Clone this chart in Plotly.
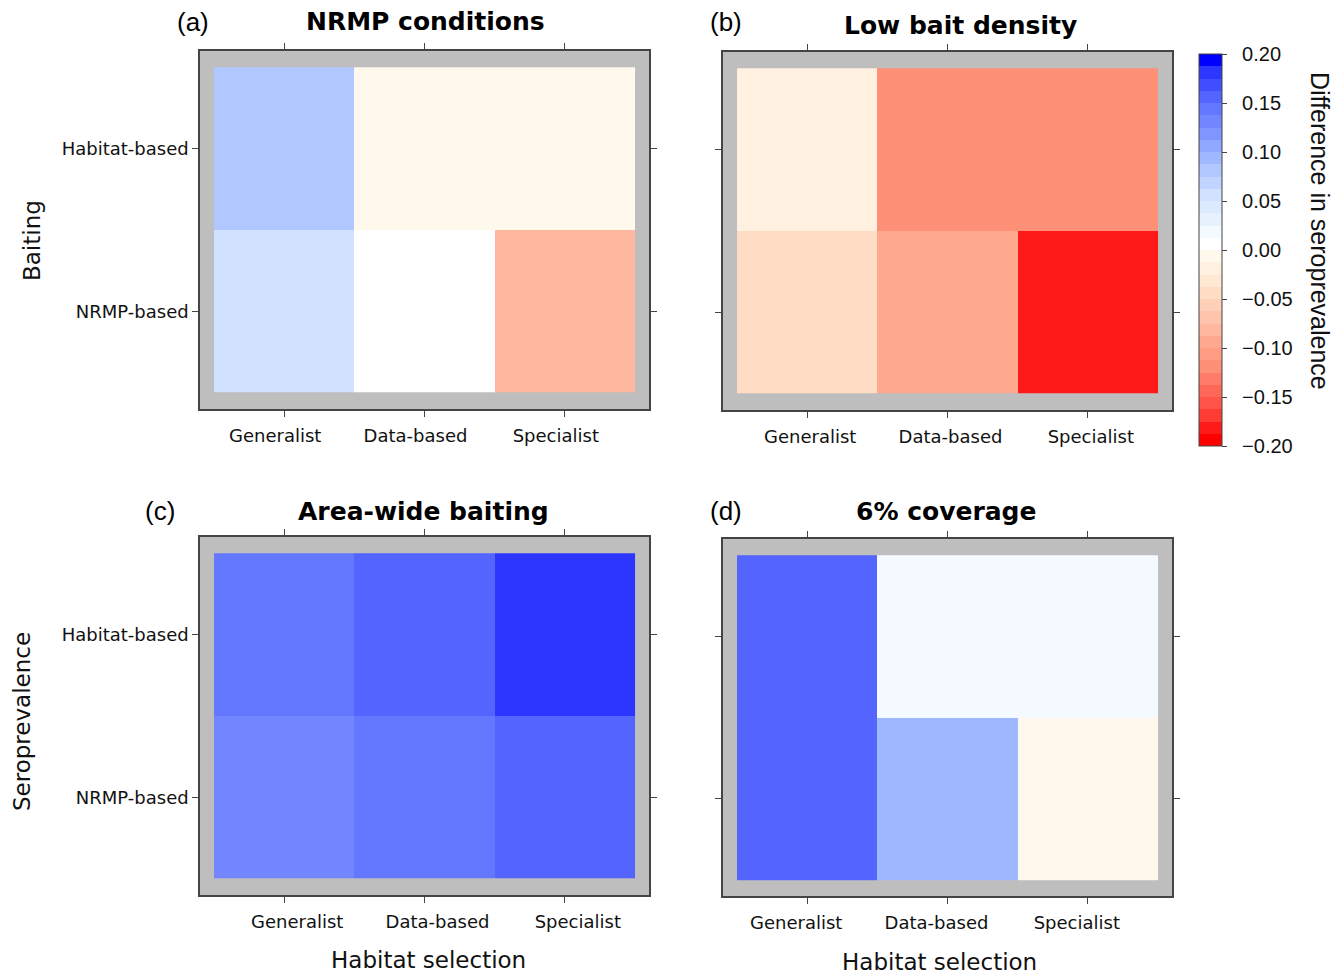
import plotly.graph_objects as go

# ---------------- data ----------------
habitat_selection = ["Generalist", "Data-based", "Specialist"]
baiting_levels = ["NRMP-based", "Habitat-based"]   # bottom row first

panel_titles = ["NRMP conditions", "Low bait density", "Area-wide baiting", "6% coverage"]
panel_letters = ["(a)", "(b)", "(c)", "(d)"]

# rows: NRMP-based, Habitat-based ; columns: Generalist, Data-based, Specialist
nrmp_conditions = [[0.055, 0.005, -0.080],
                   [0.080, -0.006, -0.006]]
low_bait_density = [[-0.045, -0.095, -0.180],
                    [-0.020, -0.120, -0.120]]
area_wide_baiting = [[0.130, 0.140, 0.155],
                     [0.140, 0.155, 0.180]]
coverage_6pct = [[0.155, 0.095, -0.006],
                 [0.155, 0.020, 0.020]]

panels_z = [nrmp_conditions, low_bait_density, area_wide_baiting, coverage_6pct]

cbar_ticks = [-0.20, -0.15, -0.10, -0.05, 0.00, 0.05, 0.10, 0.15, 0.20]
cbar_ticktext = ["\u00a0\u00a0" + ("\u2212" if v < 0 else "") + f"{abs(v):.2f}" for v in cbar_ticks]

# ---------------- discrete colour scale (32 bands from -0.2 to 0.2) ----------------
neg_bands = ["#FF0000", "#FF1A1A", "#FF3C34", "#FF5448", "#FF6858", "#FF7C68", "#FF9078", "#FF9C84",
             "#FFA890", "#FFB8A0", "#FFC4AC", "#FFD0B8", "#FFDCC4", "#FFE8D4", "#FFF0E0", "#FFF8EC"]
pos_bands = ["#FFFFFF", "#F4FAFF", "#E8F2FF", "#DCEAFF", "#D0E2FF", "#C0D4FF", "#B0C8FF", "#A0B8FF",
             "#90A8FF", "#8096FF", "#7286FF", "#6478FF", "#5464FF", "#404EFF", "#2C36FF", "#0000FF"]
bands = neg_bands + pos_bands
n = len(bands)
colorscale = []
for i, c in enumerate(bands):
    colorscale.append([i / n, c])
    colorscale.append([(i + 1) / n, c])

W, H = 1343, 974

# frame pixel boxes (left, top, right, bottom)
frames = [(200, 51, 649, 409), (723, 52, 1172, 410),
          (200, 537, 649, 895), (723, 539, 1172, 896)]
xlabel_shift = [-9, 3, 13, -11]

FONT = "DejaVu Sans"
fig = go.Figure()
layout = {}
for i, (z, (l, t, r, b)) in enumerate(zip(panels_z, frames)):
    k = "" if i == 0 else str(i + 1)
    fig.add_trace(go.Heatmap(
        z=z, x=[0, 1, 2], y=[0, 1],
        zmin=-0.2, zmax=0.2, colorscale=colorscale,
        xaxis="x" + k, yaxis="y" + k,
        showscale=(i == 1),
        colorbar=dict(
            x=1199 / W, xanchor="left", y=1 - 54 / H, yanchor="top",
            lenmode="pixels", len=392, thicknessmode="pixels", thickness=23,
            outlinecolor="#444444", outlinewidth=1,
            tickvals=cbar_ticks, ticktext=cbar_ticktext,
            ticks="outside", ticklen=5, tickcolor="#444444",
            tickfont=dict(family="Liberation Sans", size=20, color="#111111"),
            xpad=0, ypad=0,
        ),
        hoverinfo="skip",
    ))
    show_y_labels = i in (0, 2)
    layout["xaxis" + k] = dict(
        domain=[l / W, r / W], anchor="y" + k, range=[-0.6, 2.6],
        tickvals=[0, 1, 2], ticktext=habitat_selection,
        ticks="outside", ticklen=6, tickcolor="#444444",
        ticklabelshift=xlabel_shift[i], ticklabelstandoff=4,
        showline=True, linecolor="#444444", linewidth=1.5, mirror="ticks",
        showgrid=False, zeroline=False, fixedrange=True,
        tickfont=dict(family=FONT, size=18, color="#111111"),
    )
    layout["yaxis" + k] = dict(
        domain=[1 - b / H, 1 - t / H], anchor="x" + k, range=[-0.6, 1.6],
        tickvals=[0, 1], ticktext=baiting_levels if show_y_labels else ["", ""],
        ticks="outside", ticklen=6, tickcolor="#444444",
        showline=True, linecolor="#444444", linewidth=1.5, mirror="ticks",
        showgrid=False, zeroline=False, fixedrange=True,
        tickfont=dict(family=FONT, size=18, color="#111111"),
    )

annotations = []
title_pos = [(425, 22), (960, 25), (423, 511), (946, 511)]
letter_pos = [(193, 22), (726, 22), (160, 511), (726, 511)]
for title, (x, y) in zip(panel_titles, title_pos):
    annotations.append(dict(text="<b>" + title + "</b>", x=x / W, y=1 - y / H, xref="paper", yref="paper",
                            showarrow=False, xanchor="center", yanchor="middle",
                            font=dict(family=FONT, size=25, color="#000000")))
for letter, (x, y) in zip(panel_letters, letter_pos):
    annotations.append(dict(text=letter, x=x / W, y=1 - y / H, xref="paper", yref="paper",
                            showarrow=False, xanchor="center", yanchor="middle",
                            font=dict(family="Liberation Sans", size=26, color="#000000")))
# axis titles
annotations += [
    dict(text="Baiting", x=32 / W, y=1 - 241 / H, textangle=-90),
    dict(text="Seroprevalence", x=22 / W, y=1 - 722 / H, textangle=-90),
    dict(text="Habitat selection", x=429 / W, y=1 - 960 / H, textangle=0),
    dict(text="Habitat selection", x=939 / W, y=1 - 962 / H, textangle=0),
]
for a in annotations[-4:]:
    a.update(xref="paper", yref="paper", showarrow=False, xanchor="center", yanchor="middle",
             font=dict(family=FONT, size=23, color="#111111"))
annotations.append(dict(text="Difference in seroprevalence", x=1320 / W, y=1 - 231 / H,
                        xref="paper", yref="paper", showarrow=False, textangle=90,
                        xanchor="center", yanchor="middle",
                        font=dict(family="Liberation Sans", size=25, color="#111111")))

fig.update_layout(
    width=W, height=H, margin=dict(l=0, r=0, t=0, b=0),
    paper_bgcolor="white", plot_bgcolor="#BEBEBE",
    annotations=annotations, showlegend=False,
    **layout,
)

fig.write_html("out.html", config={"displayModeBar": False},
               post_script="document.body.style.margin='0px';document.body.style.overflow='hidden';")
